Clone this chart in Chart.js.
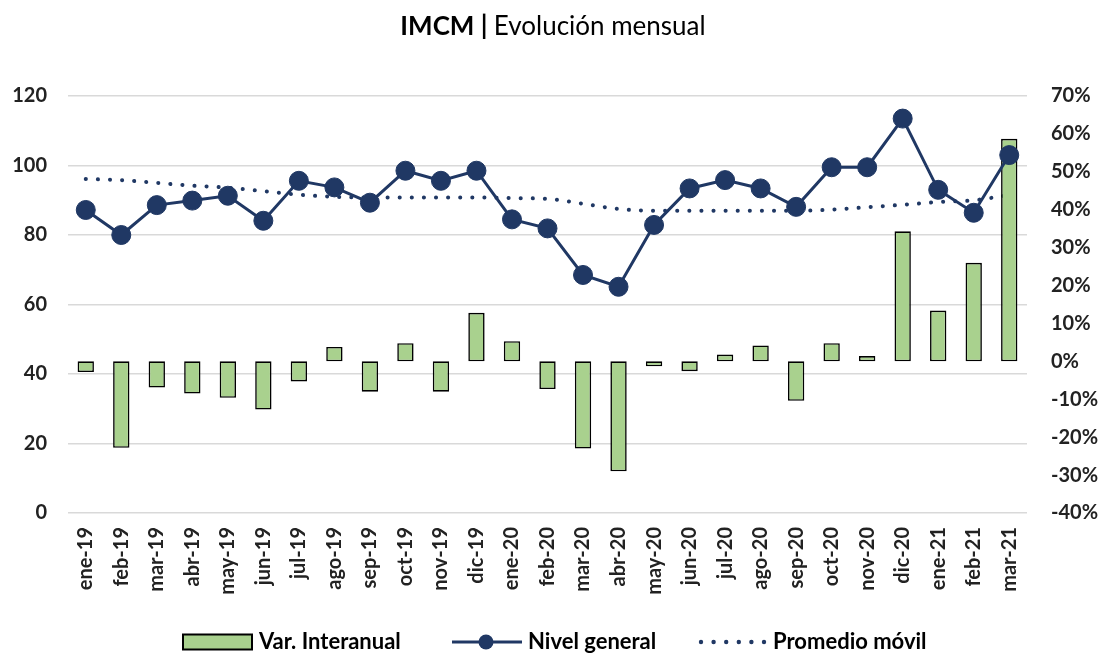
<!DOCTYPE html>
<html>
<head>
<meta charset="utf-8">
<script src="https://cdn.jsdelivr.net/npm/chart.js@4.4.1/dist/chart.umd.min.js"></script>
<style>
  html, body { margin: 0; padding: 0; background: #fff; }
  #wrap { width: 1101px; height: 653px; }
</style>
</head>
<body>
<div id="wrap"><canvas id="chart" width="1101" height="653"></canvas></div>
<script>
/* ===== data ===== */
const months = [
    "ene-19", "feb-19", "mar-19", "abr-19", "may-19", "jun-19", "jul-19", "ago-19", "sep-19",
    "oct-19", "nov-19", "dic-19", "ene-20", "feb-20", "mar-20", "abr-20", "may-20", "jun-20",
    "jul-20", "ago-20", "sep-20", "oct-20", "nov-20", "dic-20", "ene-21", "feb-21", "mar-21"
];
// Var. Interanual (%), right axis
const varInteranual = [
    -2.8, -22.8, -6.9, -8.5, -9.6, -12.7, -5.3, 3.8, -8.0,
    4.8, -8.0, 12.8, 5.3, -7.3, -23.0, -29.0, -1.3, -2.6,
    1.8, 4.2, -10.4, 4.8, 1.4, 34.3, 13.4, 26.0, 58.7
];
// Nivel general, left axis
const nivelGeneral = [
    87.2, 80.0, 88.6, 89.9, 91.3, 84.1, 95.6, 93.7, 89.3,
    98.5, 95.6, 98.5, 84.5, 81.9, 68.5, 65.1, 82.9, 93.4,
    95.8, 93.4, 88.1, 99.5, 99.5, 113.5, 93.0, 86.4, 103.0
];
// Promedio móvil, left axis
const promedioMovil = [
    96.1, 95.8, 95.0, 94.2, 93.6, 92.6, 91.6, 91.0, 90.8,
    90.8, 90.8, 90.8, 90.6, 90.4, 89.0, 87.5, 87.0, 87.0,
    87.0, 87.0, 87.0, 87.3, 88.0, 88.7, 89.5, 90.0, 91.5
];
const leftTicks = { min: 0, max: 120, step: 20 };
const rightTicks = { min: -40, max: 70, step: 10 };

const NAVY = "#203864";
const GREEN = "#a9d18e";
const FONT = "Lato, 'Open Sans', sans-serif";

/* ===== title + legend ===== */
const decorPlugin = {
    id: "decor",
    afterDraw(chart) {
        const ctx = chart.ctx;
        ctx.save();
        // title
        ctx.textBaseline = "alphabetic";
        ctx.fillStyle = "#000";
        const boldTxt = "IMCM | ";
        const normTxt = "Evolución mensual";
        ctx.font = "bold 26px " + FONT;
        const wb = ctx.measureText(boldTxt).width;
        ctx.font = "26px " + FONT;
        const wn = ctx.measureText(normTxt).width;
        let x = 553 - (wb + wn) / 2;
        ctx.font = "bold 26px " + FONT;
        ctx.fillText(boldTxt, x, 35);
        ctx.font = "26px " + FONT;
        ctx.fillText(normTxt, x + wb, 35);

        // legend
        const ly = 642;
        ctx.font = "bold 22px " + FONT;
        ctx.textBaseline = "middle";
        ctx.textAlign = "left";

        ctx.fillStyle = GREEN;
        ctx.fillRect(183, ly - 7.5, 69, 15);
        ctx.strokeStyle = "#000";
        ctx.lineWidth = 2;
        ctx.strokeRect(183, ly - 7.5, 69, 15);
        ctx.fillStyle = "#000";
        ctx.fillText("Var. Interanual", 259, ly);

        ctx.strokeStyle = NAVY;
        ctx.lineWidth = 3;
        ctx.beginPath();
        ctx.moveTo(452, ly);
        ctx.lineTo(522, ly);
        ctx.stroke();
        ctx.fillStyle = NAVY;
        ctx.beginPath();
        ctx.arc(486, ly, 7.5, 0, Math.PI * 2);
        ctx.fill();
        ctx.fillStyle = "#000";
        ctx.fillText("Nivel general", 528, ly);

        ctx.fillStyle = NAVY;
        for (let i = 0; i < 6; i++) {
            ctx.beginPath();
            ctx.arc(701 + i * 12.6, ly, 2.2, 0, Math.PI * 2);
            ctx.fill();
        }
        ctx.fillStyle = "#000";
        ctx.fillText("Promedio móvil", 773, ly);
        ctx.restore();
    }
};

/* ===== chart ===== */
new Chart(document.getElementById("chart"), {
    data: {
        labels: months,
        datasets: [
            {
                type: "line",
                label: "Nivel general",
                data: nivelGeneral,
                yAxisID: "y",
                borderColor: NAVY,
                backgroundColor: NAVY,
                borderWidth: 3,
                pointRadius: 9.5,
                pointBorderWidth: 1,
                pointBackgroundColor: NAVY,
                pointBorderColor: NAVY,
                tension: 0,
                order: 1
            },
            {
                type: "bar",
                label: "Var. Interanual",
                data: varInteranual,
                yAxisID: "y1",
                backgroundColor: GREEN,
                borderColor: "#000",
                borderWidth: 1.6,
                borderSkipped: false,
                barPercentage: 0.46,
                categoryPercentage: 1,
                order: 2
            },
            {
                type: "line",
                label: "Promedio móvil",
                data: promedioMovil,
                yAxisID: "y",
                borderColor: NAVY,
                borderWidth: 4,
                borderDash: [0.1, 12],
                borderCapStyle: "round",
                pointRadius: 0,
                cubicInterpolationMode: "monotone",
                fill: false,
                order: 3
            }
        ]
    },
    options: {
        responsive: false,
        animation: false,
        events: [],
        layout: { padding: { top: 96, bottom: 40, left: 0, right: 0 } },
        plugins: {
            legend: { display: false },
            title: { display: false },
            tooltip: { enabled: false }
        },
        scales: {
            x: {
                grid: { display: false, drawTicks: false },
                border: { display: false },
                ticks: {
                    autoSkip: false,
                    minRotation: 90,
                    maxRotation: 90,
                    padding: 14,
                    color: "#222",
                    font: { family: FONT, size: 20, weight: "bold" }
                },
                afterFit: s => { s.height = 100; }
            },
            y: {
                position: "left",
                min: leftTicks.min,
                max: leftTicks.max,
                border: { display: false },
                grid: { color: "#d9d9d9", lineWidth: 1.5, drawTicks: false },
                ticks: {
                    stepSize: leftTicks.step,
                    padding: 21,
                    color: "#222",
                    font: { family: FONT, size: 20, weight: "bold" }
                },
                afterFit: s => { s.width = 68; }
            },
            y1: {
                position: "right",
                min: rightTicks.min,
                max: rightTicks.max,
                border: { display: false },
                grid: { display: false, drawTicks: false },
                ticks: {
                    stepSize: rightTicks.step,
                    padding: 24,
                    color: "#222",
                    callback: v => v + "%",
                    font: { family: FONT, size: 20, weight: "bold" }
                },
                afterFit: s => { s.width = 74; }
            }
        }
    },
    plugins: [decorPlugin]
});
</script>
</body>
</html>
